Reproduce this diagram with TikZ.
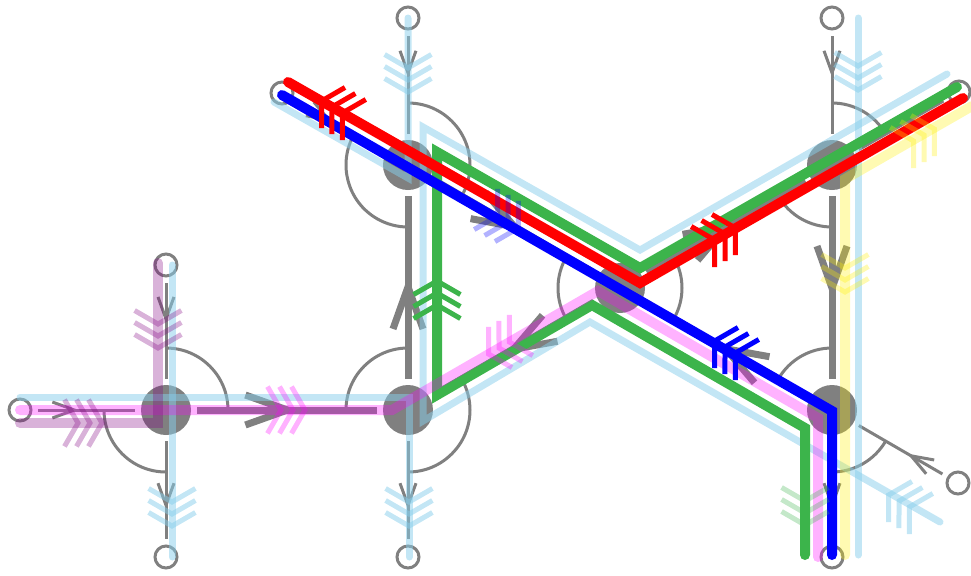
\documentclass[tikz,border=0pt]{standalone}
\usetikzlibrary{arrows.meta,decorations.markings}
\definecolor{sky}{RGB}{135,206,235}
\definecolor{leaf}{RGB}{60,180,75}
\definecolor{plum}{RGB}{128,0,128}
\definecolor{fuchsia}{RGB}{255,0,255}
\definecolor{lemon}{RGB}{255,240,0}
\begin{document}
\begin{tikzpicture}[x=0.5pt, y=-0.5pt,
  hub/.style={circle, fill=gray, minimum size=25pt, inner sep=0pt, outer sep=3pt},
  term/.style={circle, draw=gray, line width=1.5pt, minimum size=11pt, inner sep=0pt, outer sep=3.5pt},
  turn/.style={gray, line width=1.5pt},
  feed/.style={gray, line width=1.5pt, postaction={decorate},
    decoration={markings, mark=at position #1 with {\arrow{Straight Barb[length=11pt, width=8pt]}}}},
  trunk/.style={gray, line width=3.5pt, postaction={decorate},
    decoration={markings, mark=at position 0.56 with {\arrow{Straight Barb[length=21pt, width=15pt]}}}},
  route/.style={line width=5pt, line cap=round},
  haze/.style={line width=5pt, line cap=round, draw opacity=0.3},
  skyline/.style={sky, line width=3.5pt, line cap=round, draw opacity=0.5},
  vane/.style={line width=2.5pt, draw opacity=#1},
  fletch/.pic={\foreach \s in {-12,0,12} \draw (\s-13.5,-23.4) -- (\s,0) -- (\s-13.5,23.4);}
]
\useasboundingbox (0,0) rectangle (971,575);

% crossings
\node[hub] (a) at (166,410) {};
\node[hub] (b) at (408,410) {};
\node[hub] (c) at (408,165) {};
\node[hub] (d) at (620,288) {};
\node[hub] (e) at (832,165) {};
\node[hub] (f) at (832,410) {};

% ends
\node[term] (t1) at (20,410) {};
\node[term] (t2) at (166,265) {};
\node[term] (t3) at (166,557) {};
\node[term] (t4) at (408,557) {};
\node[term] (t5) at (408,18) {};
\node[term] (t6) at (282,93) {};
\node[term] (t7) at (832,18) {};
\node[term] (t8) at (959,92) {};
\node[term] (t9) at (832,557) {};
\node[term] (t10) at (958,483) {};

% turns
\draw[turn] ([shift={(90:31pt)}]a.center) arc[start angle=90, end angle=0, radius=31pt];
\draw[turn] ([shift={(180:31pt)}]a.center) arc[start angle=180, end angle=270, radius=31pt];
\draw[turn] ([shift={(180:31pt)}]b.center) arc[start angle=180, end angle=90, radius=31pt];
\draw[turn] ([shift={(-90:31pt)}]b.center) arc[start angle=-90, end angle=30, radius=31pt];
\draw[turn] ([shift={(90:31pt)}]c.center) arc[start angle=90, end angle=-30, radius=31pt];
\draw[turn] ([shift={(150:31pt)}]c.center) arc[start angle=150, end angle=270, radius=31pt];
\draw[turn] ([shift={(150:31pt)}]d.center) arc[start angle=150, end angle=210, radius=31pt];
\draw[turn] ([shift={(-30:31pt)}]d.center) arc[start angle=-30, end angle=30, radius=31pt];
\draw[turn] ([shift={(90:31pt)}]e.center) arc[start angle=90, end angle=30, radius=31pt];
\draw[turn] ([shift={(210:31pt)}]e.center) arc[start angle=210, end angle=270, radius=31pt];
\draw[turn] ([shift={(90:31pt)}]f.center) arc[start angle=90, end angle=150, radius=31pt];
\draw[turn] ([shift={(-30:31pt)}]f.center) arc[start angle=-30, end angle=-90, radius=31pt];

% links
\draw[feed=0.42] (t1) -- (a);
\draw[feed=0.42] (t2) -- (a);
\draw[feed=0.7] (a) -- (t3);
\draw[feed=0.7] (b) -- (t4);
\draw[feed=0.42] (t5) -- (c);
\draw[feed=0.42] (t6) -- (c);
\draw[feed=0.42] (t7) -- (e);
\draw[feed=0.7] (e) -- (t8);
\draw[feed=0.7] (f) -- (t9);
\draw[feed=0.42] (t10) -- (f);
\draw[trunk] (a) -- (b);
\draw[trunk] (b) -- (c);
\draw[trunk] (c) -- (d);
\draw[trunk] (d) -- (b);
\draw[trunk] (d) -- (e);
\draw[trunk] (e) -- (f);
\draw[trunk] (f) -- (d);

% routes
\draw[skyline] (172,265) -- (172,557);
\draw[skyline] (20,397) -- (409,397) -- (409,557);
\draw[skyline] (408,18) -- (408,178) -- (274,102);
\draw[skyline] (947,74) -- (640,250) -- (423,127) -- (423,421) -- (590,322) -- (940,522);
\draw[skyline] (858,18) -- (858,555);
\draw[route, leaf] (957,87) -- (640,268) -- (437,152) -- (437,395) -- (592,305) -- (805,428) -- (805,555);
\draw[route, red] (288,82) -- (640,283) -- (963,98);
\draw[route, blue] (282,95) -- (832,411) -- (832,555);
\draw[haze, fuchsia] (20,410) -- (392,410) -- (598,291) -- (818,418) -- (818,557);
\draw[haze, plum] (158,263) -- (158,423) -- (20,423);
\draw[haze, lemon] (972,106) -- (845,179) -- (845,555);

% feathers
\pic[sky, vane=0.5, rotate=-90] at (408,80) {fletch};
\pic[sky, vane=0.5, rotate=-90] at (172,514) {fletch};
\pic[sky, vane=0.5, rotate=-90] at (409,514) {fletch};
\pic[sky, vane=0.5, rotate=-90] at (858,78) {fletch};
\pic[sky, vane=0.5, rotate=150] at (899,501) {fletch};
\pic[plum, vane=0.3, rotate=-90] at (158,336) {fletch};
\pic[plum, vane=0.3, rotate=0] at (90,423) {fletch};
\pic[fuchsia, vane=0.3, rotate=0] at (293,410) {fletch};
\pic[fuchsia, vane=0.3, rotate=210] at (499,348) {fletch};
\pic[leaf, vane=1, rotate=90] at (437,293) {fletch};
\pic[leaf, vane=0.3, rotate=-90] at (805,513) {fletch};
\pic[red, vane=1, rotate=150] at (332,107) {fletch};
\pic[red, vane=1, rotate=30] at (725,234) {fletch};
\pic[blue, vane=0.3, rotate=-30] at (508,222) {fletch};
\pic[blue, vane=1, rotate=150] at (725,347) {fletch};
\pic[lemon, vane=0.3, rotate=30] at (924,135) {fletch};
\pic[lemon, vane=0.3, rotate=-90] at (845,280) {fletch};
\end{tikzpicture}
\end{document}
